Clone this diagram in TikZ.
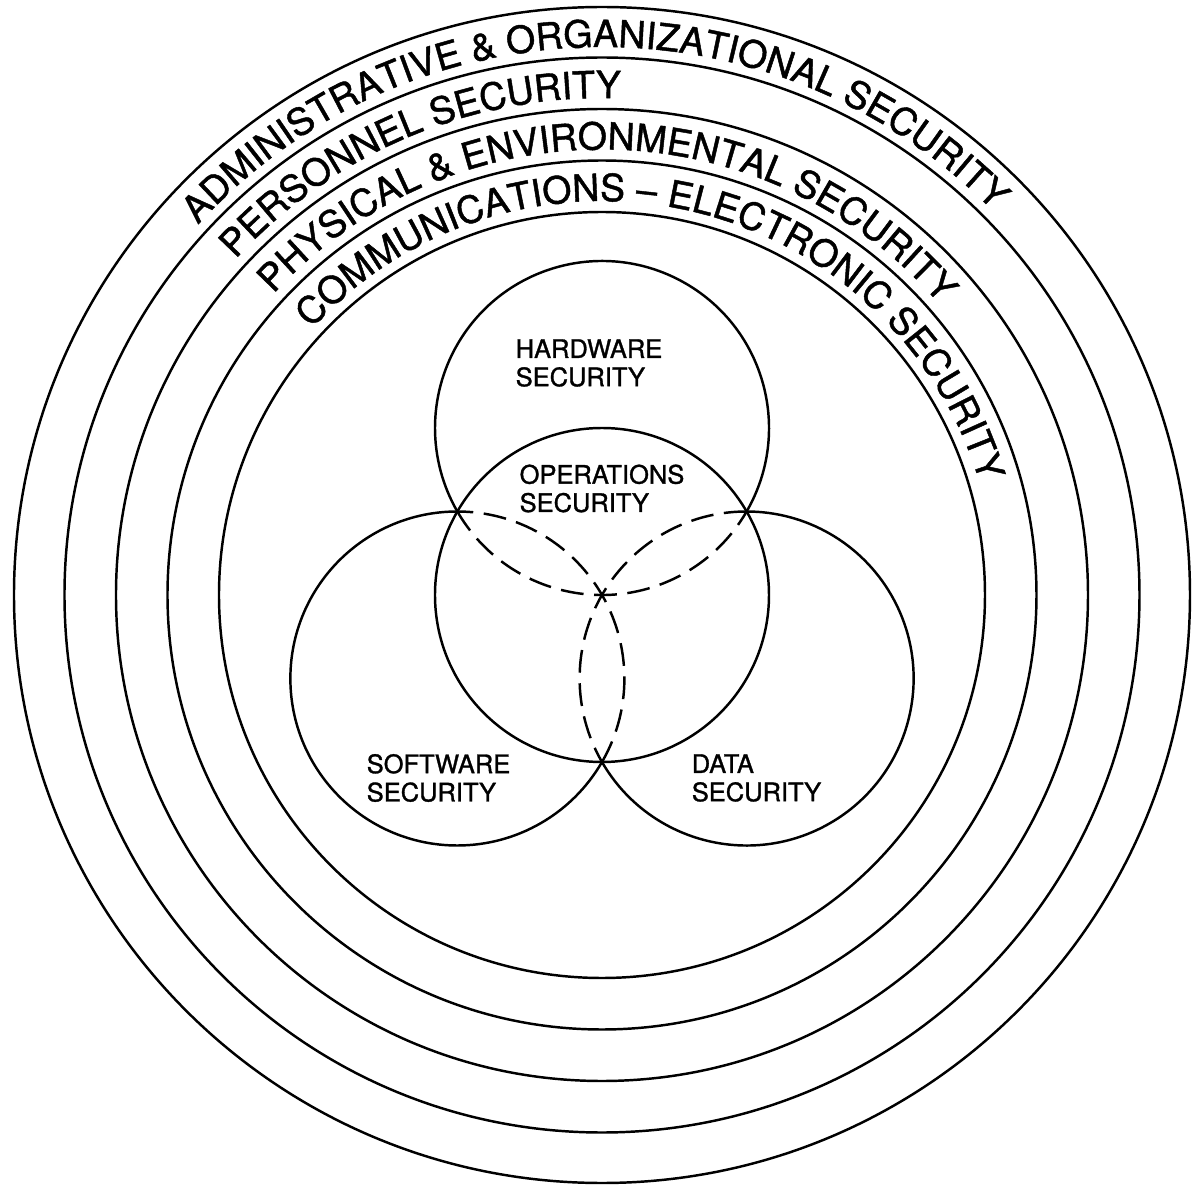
\documentclass[tikz,border=0pt]{standalone}
\usepackage{fontspec}
\setmainfont[FakeBold=1.2]{TeX Gyre Heros}
\usetikzlibrary{decorations.text}

\begin{document}
\begin{tikzpicture}[
    % --- Circle styles ---
    ring/.style={line width=1.4pt},
    hidden arc/.style={line width=1.4pt, dash pattern=on 13pt off 6pt},
    % --- Text styles ---
    area label/.style={align=left, inner sep=0pt,
                       font=\fontsize{14.5}{16.1}\selectfont},
    ring label/.style={decorate, decoration={text along path, text align=left,
                       text={|\fontsize{21.3}{24}\selectfont|#1}}},
]
\useasboundingbox (-12.04,-11.82) rectangle (11.82,11.90);

% ============================================================
% Concentric security layers
% ============================================================
\coordinate (core) at (0,0);
\foreach \r in {7.66, 8.69, 9.72, 10.75, 11.76}
  \draw[ring] (core) circle[radius=\r];

% --- Layer names, written along the band just above each inner circle ---
\path[ring label={ADMINISTRATIVE {\&} ORGANIZATIONAL SECURITY}]
  (137.5:10.96) arc[start angle=137.5, end angle=0, radius=10.96];
\path[ring label={PERSONNEL SECURITY}]
  (137.5:9.94) arc[start angle=137.5, end angle=0, radius=9.94];
\path[ring label={PHYSICAL {\&} ENVIRONMENTAL SECURITY}]
  (137.5:8.91) arc[start angle=137.5, end angle=0, radius=8.91];
\path[ring label={COMMUNICATIONS {\textendash} ELECTRONIC SECURITY}]
  (137.5:7.88) arc[start angle=137.5, end angle=-10, radius=7.88];

% ============================================================
% Three circles round the operations circle
% ============================================================
\coordinate (hw) at ( 90:3.34);   % hardware
\coordinate (sw) at (210:3.34);   % software
\coordinate (dt) at (330:3.34);   % data

\draw[ring] (core) circle[radius=3.34];
% solid outside the operations circle, dashed inside it
\foreach \c/\a in {hw/90, sw/210, dt/330} {
  \draw[ring] (\c) ++(\a-120:3.34)
    arc[start angle=\a-120, end angle=\a+120, radius=3.34];
  \draw[hidden arc] (\c) ++(\a+120:3.34)
    arc[start angle=\a+120, end angle=\a+240, radius=3.34];
}

% --- Area names ---
\node[area label] (hwlabel) at (-0.26, 4.64) {HARDWARE\\SECURITY};
\node[area label] (oplabel) at ( 0.00, 2.13) {OPERATIONS\\SECURITY};
\node[area label] (swlabel) at (-3.27,-3.66) {SOFTWARE\\SECURITY};
\node[area label] (dtlabel) at ( 3.09,-3.66) {DATA\\SECURITY};

\end{tikzpicture}
\end{document}
